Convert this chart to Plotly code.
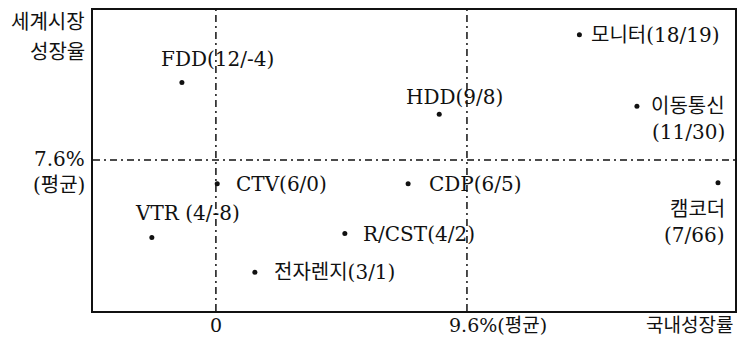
import plotly.graph_objects as go

# ---- data ----
names = ["FDD", "HDD", "모니터", "이동통신", "CTV", "CDP", "캠코더", "VTR", "R/CST", "전자렌지"]
world_growth = [12, 9, 18, 11, 6, 6, 7, 4, 4, 3]        # 세계시장 성장율
domestic_growth = [-4, 8, 19, 30, 0, 5, 66, -8, 2, 1]   # 국내성장률
# schematic map positions (the map is not drawn to scale)
pos_x = [-1.30, 8.54, 13.9, 16.1, 0.05, 7.35, 19.2, -2.45, 4.93, 1.49]
pos_y = [15.4, 12.2, 20.2, 13.0, 5.2, 5.2, 5.3, -0.2, 0.2, -3.7]
avg_domestic = 9.6
avg_world = 7.6
x_tick_vals = [0, 9.6]
x_tick_text = ["0", "9.6%(평균)"]
y_tick_text = ["7.6%", "(평균)"]
y_title = ["세계시장", "성장율"]
x_title = "국내성장률"

# ---- label layout (style only) ----
# (xanchor, xshift, yshift, split into two lines)
label_style = {
    "FDD": ("center", 36, 24, False),
    "HDD": ("center", 15, 17, False),
    "모니터": ("left", 10, 0, False),
    "이동통신": ("right", 90, 0, True),
    "CTV": ("left", 17, 0, False),
    "CDP": ("left", 19, 0, False),
    "캠코더": ("right", 9, -26, True),
    "VTR": ("center", 36, 24, False),
    "R/CST": ("left", 16, 0, False),
    "전자렌지": ("left", 17, 0, False),
}

FONT = "DejaVu Serif, Noto Sans CJK KR, serif"
INK = "#111111"
FS = 20

fig = go.Figure()
fig.add_trace(go.Scatter(
    x=pos_x, y=pos_y, mode="markers",
    marker=dict(size=5, color=INK),
    hoverinfo="skip", showlegend=False,
))

ann = []
for n, w, d, x, y in zip(names, world_growth, domestic_growth, pos_x, pos_y):
    xa, xs, ys, split = label_style[n]
    sep = " " if n == "VTR" else ""
    if split:
        lines = [n, f"({w}/{d})"]
    else:
        lines = [f"{n}{sep}({w}/{d})"]
    for i, t in enumerate(lines):
        ann.append(dict(x=x, y=y, xref="x", yref="y", text=t, showarrow=False,
                        xanchor=xa, yanchor="middle", xshift=xs, yshift=ys - 26 * i,
                        font=dict(family=FONT, size=FS, color=INK)))

# y axis texts
for i, t in enumerate(y_title):
    ann.append(dict(x=0, y=1, xref="paper", yref="paper", text=t, showarrow=False,
                    xanchor="right", yanchor="middle", xshift=-6, yshift=-12 - 30 * i,
                    font=dict(family=FONT, size=20, color=INK)))
for i, t in enumerate(y_tick_text):
    ann.append(dict(x=0, y=avg_world, xref="paper", yref="y", text=t, showarrow=False,
                    xanchor="right", yanchor="middle", xshift=-6, yshift=1 - 26 * i,
                    font=dict(family=FONT, size=FS, color=INK)))
# x axis texts
BFS = 19
ann.append(dict(x=x_tick_vals[0], y=0, xref="x", yref="paper", text=x_tick_text[0],
                showarrow=False, xanchor="center", yanchor="top", yshift=-1,
                font=dict(family=FONT, size=BFS, color=INK)))
ann.append(dict(x=x_tick_vals[1], y=0, xref="x", yref="paper", text=x_tick_text[1],
                showarrow=False, xanchor="left", yanchor="top", xshift=-20, yshift=-1,
                font=dict(family=FONT, size=BFS, color=INK)))
ann.append(dict(x=1, y=0, xref="paper", yref="paper", text=x_title,
                showarrow=False, xanchor="right", yanchor="top", yshift=-1,
                font=dict(family=FONT, size=BFS, color=INK)))

dash = "7px,4px,2px,4px"
shapes = [
    dict(type="line", xref="x", yref="paper", x0=0, x1=0, y0=0, y1=1,
         line=dict(color=INK, width=1.5, dash=dash)),
    dict(type="line", xref="x", yref="paper", x0=avg_domestic, x1=avg_domestic, y0=0, y1=1,
         line=dict(color=INK, width=1.5, dash=dash)),
    dict(type="line", xref="paper", yref="y", x0=0, x1=1, y0=avg_world, y1=avg_world,
         line=dict(color=INK, width=1.5, dash=dash)),
]

fig.update_layout(
    width=747, height=337,
    margin=dict(l=93, r=12, t=8, b=26),
    paper_bgcolor="white", plot_bgcolor="white",
    annotations=ann, shapes=shapes,
    xaxis=dict(range=[-4.70, 19.85], showgrid=False, zeroline=False, showticklabels=False,
               ticks="", showline=True, mirror=True, linecolor=INK, linewidth=1.5),
    yaxis=dict(range=[-7.6, 22.7], showgrid=False, zeroline=False, showticklabels=False,
               ticks="", showline=True, mirror=True, linecolor=INK, linewidth=1.5),
)

fig.write_html("out.html", config={"displayModeBar": False},
               post_script="document.body.style.margin='0';document.body.style.overflow='hidden';")
